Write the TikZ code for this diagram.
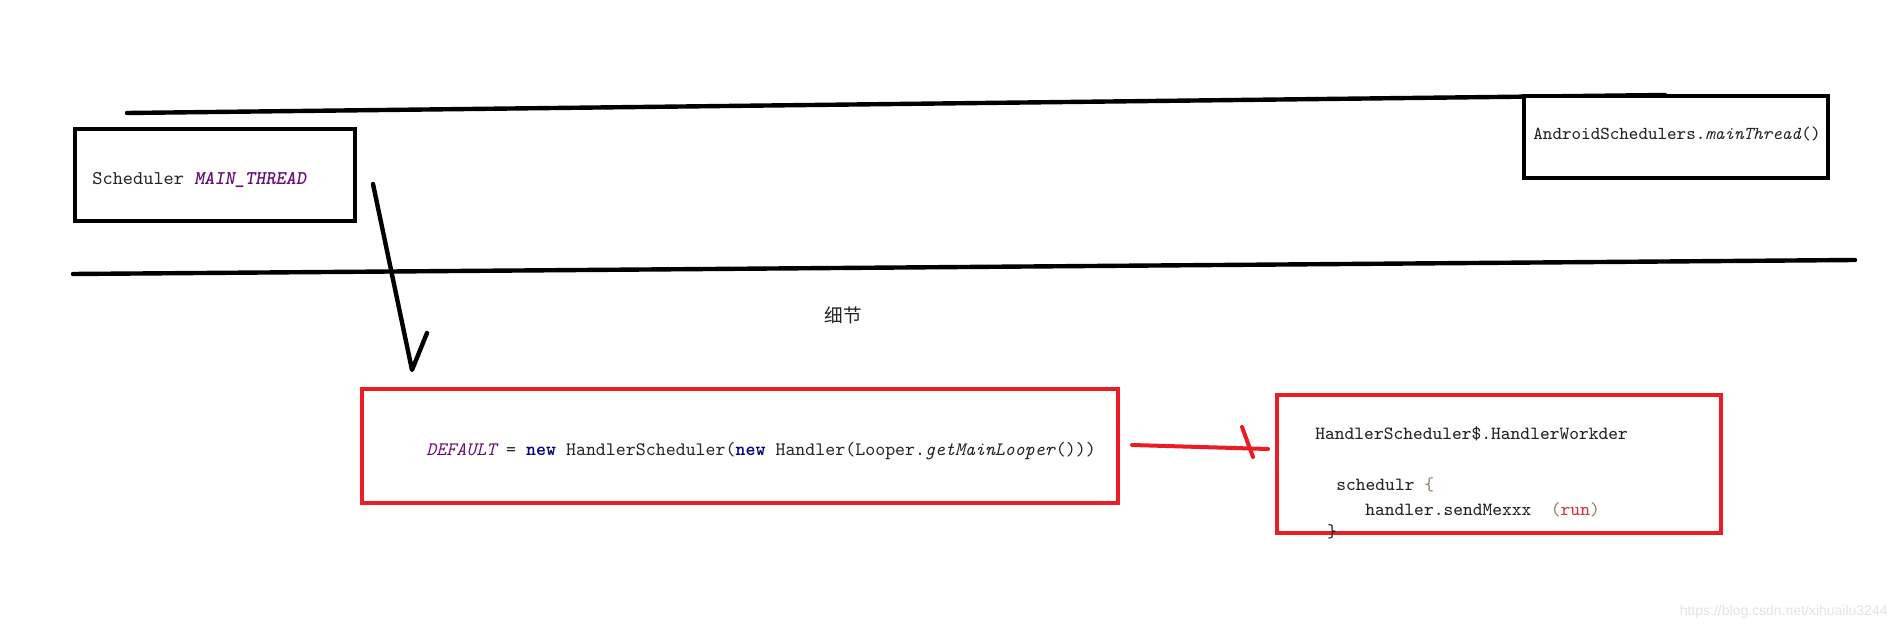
\documentclass[tikz,border=0pt]{standalone}
\usepackage{fontspec}
\newfontfamily\cjk{Noto Sans CJK SC}
\newfontfamily\wmfont{Liberation Sans}
\usetikzlibrary{calc}
\definecolor{txt}{RGB}{35,35,35}
\definecolor{kwpurple}{RGB}{102,14,122}
\definecolor{kwnavy}{RGB}{0,0,128}
\definecolor{pred}{RGB}{237,28,36}
\definecolor{runred}{RGB}{224,50,60}
\definecolor{brn}{RGB}{150,130,110}
\definecolor{wm}{RGB}{228,228,228}
\begin{document}
\begin{tikzpicture}[x=0.5pt,y=-0.5pt,
  blackbox/.style={draw=black, line width=2pt, inner sep=0pt},
  redbox/.style={draw=pred, line width=2pt, inner sep=0pt},
  code/.style={font=\ttfamily\fontsize{9.3}{11}\selectfont, text=txt, inner sep=0pt, anchor=base west},
  hand/.style={draw=black, line width=2.2pt, line cap=round, line join=round},
  redhand/.style={draw=pred, line width=2pt, line cap=round, line join=round}]
\useasboundingbox[fill=white] (0,0) rectangle (1899,630);

% horizontal rules
\coordinate (t1) at (127,113);
\coordinate (t2) at (1665,95);
\coordinate (m1) at (73,274);
\coordinate (m2) at (1855,260);
\draw[hand] (t1) -- (t2);
\draw[hand] (m1) -- (m2);

% boxes
\node[blackbox, fill=white, minimum width=140pt, minimum height=46pt] (b1) at (215,175) {};
\node[blackbox, fill=white, minimum width=152pt, minimum height=41pt] (b2) at (1676,137) {};
\node[redbox, minimum width=378pt, minimum height=57pt] (r1) at (740,446) {};
\node[redbox, minimum width=222pt, minimum height=69pt] (r2) at (1499,464) {};

% texts
\node[code, font=\ttfamily\fontsize{9.7}{11}\selectfont] (tb1) at (92,185) {Scheduler \textcolor{kwpurple}{\bfseries\itshape MAIN\_THREAD}};
\node[code, font=\ttfamily\fontsize{9.1}{11}\selectfont] (tb2) at (1533,140) {AndroidSchedulers.\textit{mainThread}()};
\node[code, font=\ttfamily\fontsize{9.5}{11}\selectfont] (tr1) at (426,455) {\textcolor{kwpurple}{\itshape DEFAULT} = \textcolor{kwnavy}{\bfseries new} HandlerScheduler(\textcolor{kwnavy}{\bfseries new} Handler(Looper.\textit{getMainLooper}()))};
\node[code] (tr2a) at (1315,439) {HandlerScheduler\$.HandlerWorkder};
\node[code] (tr2b) at (1336,490) {schedulr \textcolor{brn}{\{}};
\node[code] (tr2c) at (1365,515) {handler.sendMexxx\ \ \textcolor{brn}{(}\textcolor{runred}{run}\textcolor{brn}{)}};
\node[code] (tr2d) at (1327,537) {\}};

\node[font=\cjk\fontsize{9.3}{11}\selectfont, text=txt, inner sep=0pt] (detail) at (843,315) {细节};

% arrow
\coordinate (a1) at (373,184);
\coordinate (a2) at (412,370);
\coordinate (a3) at (427,333);
\draw[hand] (a1) -- (a2) -- (a3);

% red connector
\coordinate (c1) at (1132,445);
\coordinate (c2) at (1268,449);
\coordinate (k1) at (1242,427);
\coordinate (k2) at (1253,457);
\draw[redhand] (c1) -- (c2);
\draw[redhand] (k1) -- (k2);

% watermark
\node[font=\wmfont\fontsize{7}{8}\selectfont, text=wm, inner sep=0pt, anchor=east] (wm) at (1888,612) {https://blog.csdn.net/xihuailu3244};
\end{tikzpicture}
\end{document}
